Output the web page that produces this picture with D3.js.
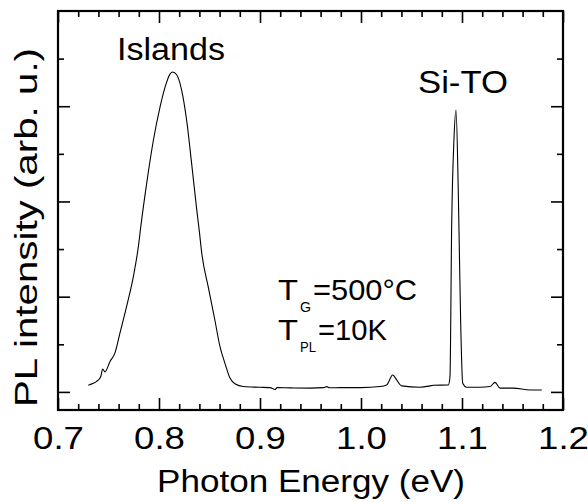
<!DOCTYPE html>
<html>
<head>
<meta charset="utf-8">
<script src="https://cdn.jsdelivr.net/npm/d3@7"></script>
<style>
  html, body { margin: 0; padding: 0; background: #fff; }
  svg { display: block; }
  text { font-family: Arial, "Liberation Sans", Helvetica, sans-serif; fill: #000; }
</style>
</head>
<body>
<svg id="chart" width="588" height="502"></svg>
<script>
// ---- data ----
const energy = [0.730, 0.735, 0.7383, 0.7423, 0.7442, 0.7465, 0.7515, 0.7564, 0.7614, 0.768,
  0.7746, 0.7795, 0.7825, 0.7878, 0.7944, 0.801, 0.806, 0.811, 0.8135, 0.8175,
  0.8224, 0.8274, 0.8323, 0.8373, 0.840, 0.8423, 0.8488, 0.8554, 0.8604, 0.8653,
  0.8703, 0.8752, 0.8835, 0.900, 0.910, 0.9149, 0.917, 0.930, 0.950, 0.963,
  0.966, 0.969, 0.980, 1.000, 1.0188, 1.0254, 1.0314, 1.0353, 1.0403, 1.0584,
  1.0683, 1.0716, 1.0865, 1.0881, 1.0898, 1.092, 1.0941, 1.0963, 1.0987, 1.1007,
  1.1046, 1.1178, 1.1277, 1.1327, 1.1376, 1.1508, 1.1673, 1.179];
const intensity = [0.07, 0.09, 0.11, 0.16, 0.24, 0.21, 0.32, 0.41, 0.62, 0.90,
  1.21, 1.52, 1.78, 2.19, 2.64, 2.99, 3.20, 3.34, 3.36, 3.33,
  3.17, 2.85, 2.40, 1.92, 1.68, 1.46, 1.10, 0.75, 0.475, 0.30,
  0.145, 0.085, 0.056, 0.049, 0.045, 0.025, 0.045, 0.042, 0.040, 0.045,
  0.055, 0.043, 0.045, 0.045, 0.056, 0.073, 0.178, 0.126, 0.063, 0.049,
  0.063, 0.070, 0.073, 0.16, 1.77, 2.64, 2.96, 2.12, 0.72, 0.09,
  0.049, 0.049, 0.056, 0.10, 0.04, 0.04, 0.02, 0.02];

const xMajorTicks = [0.7, 0.8, 0.9, 1.0, 1.1, 1.2];
const xTickLabels = ["0.7", "0.8", "0.9", "1.0", "1.1", "1.2"];
const xMinorTicks = [0.72, 0.74, 0.76, 0.78, 0.82, 0.84, 0.86, 0.88, 0.92, 0.94, 0.96, 0.98,
  1.02, 1.04, 1.06, 1.08, 1.12, 1.14, 1.16, 1.18];
const yMajorTicks = [0, 1, 2, 3];
const yMinorTicks = [0.5, 1.5, 2.5, 3.5];

const xDomain = [0.7, 1.2];
const yDomain = [-0.19, 4.0];

// ---- layout ----
const svg = d3.select("#chart");
const L = 58, R = 563, T = 11, B = 410;
const x = d3.scaleLinear().domain(xDomain).range([L, R]);
const y = d3.scaleLinear().domain(yDomain).range([B, T]);
const SX = 1.18; // horizontal stretch of the reference's lettering

// curve
const line = d3.line()
  .x((d, i) => x(energy[i]))
  .y((d, i) => y(intensity[i]))
  .curve(d3.curveMonotoneX);
svg.append("path")
  .datum(energy)
  .attr("d", line)
  .attr("fill", "none")
  .attr("stroke", "#000")
  .attr("stroke-width", 1.1);

// axes helper
function styleAxis(g) {
  g.select(".domain").remove();
  g.selectAll(".tick line").attr("stroke", "#000").attr("stroke-width", 1.6);
}
const MAJ = 12, MIN = 6;

// bottom
const gb = svg.append("g").attr("transform", `translate(0,${B})`);
gb.append("g").call(d3.axisBottom(x).tickValues(xMinorTicks).tickSize(-MIN).tickFormat(""))
  .call(styleAxis);
const gbm = gb.append("g").call(d3.axisBottom(x).tickValues(xMajorTicks).tickSize(-MAJ)
  .tickFormat((d, i) => xTickLabels[i]))
  .call(styleAxis);
gbm.selectAll(".tick text")
  .attr("y", 39).attr("dy", 0)
  .attr("font-size", 31)
  .attr("font-family", null)
  .attr("transform", `scale(${SX},1)`)
  .attr("fill", "#000");
gbm.attr("font-family", null).attr("font-size", null);

// top
const gt = svg.append("g").attr("transform", `translate(0,${T})`);
gt.append("g").call(d3.axisTop(x).tickValues(xMinorTicks).tickSize(-MIN).tickFormat("")).call(styleAxis);
gt.append("g").call(d3.axisTop(x).tickValues(xMajorTicks).tickSize(-MAJ).tickFormat("")).call(styleAxis);

// left
const gl = svg.append("g").attr("transform", `translate(${L},0)`);
gl.append("g").call(d3.axisLeft(y).tickValues(yMinorTicks).tickSize(-MIN).tickFormat("")).call(styleAxis);
gl.append("g").call(d3.axisLeft(y).tickValues(yMajorTicks).tickSize(-MAJ).tickFormat("")).call(styleAxis);

// right
const gr = svg.append("g").attr("transform", `translate(${R},0)`);
gr.append("g").call(d3.axisRight(y).tickValues(yMinorTicks).tickSize(-MIN).tickFormat("")).call(styleAxis);
gr.append("g").call(d3.axisRight(y).tickValues(yMajorTicks).tickSize(-MAJ).tickFormat("")).call(styleAxis);

// frame
svg.append("rect")
  .attr("x", L).attr("y", T).attr("width", R - L).attr("height", B - T)
  .attr("fill", "none").attr("stroke", "#000").attr("stroke-width", 2.2);

// text helper
function label(txt, px, py, size, anchor, len) {
  const g = svg.append("g").attr("transform", `translate(${px},${py})`);
  const t = g.append("text").text(txt).attr("font-size", size)
    .attr("text-anchor", anchor || "start");
  if (len) t.attr("textLength", len).attr("lengthAdjust", "spacingAndGlyphs");
  else t.attr("transform", `scale(${SX},1)`);
  return t;
}

// axis titles
label("Photon Energy (eV)", 311, 492, 31, "middle", 308);
svg.append("g").attr("transform", "translate(37,227.5) rotate(-90)")
  .append("text").text("PL intensity (arb. u.)")
  .attr("font-size", 31).attr("text-anchor", "middle")
  .attr("textLength", 359).attr("lengthAdjust", "spacingAndGlyphs");

// annotations
label("Islands", 117, 60, 31, "start", 108);
label("Si-TO", 418, 93, 31, "start", 90);
label("T", 278, 300, 30, "start", 20);
label("G", 300, 312, 14, "start", 11);
label("=500°C", 313, 300, 30, "start", 104);
label("T", 278, 340, 30, "start", 20);
label("PL", 300, 352, 14, "start", 16);
label("=10K", 318, 340, 30, "start", 69);
</script>
</body>
</html>
